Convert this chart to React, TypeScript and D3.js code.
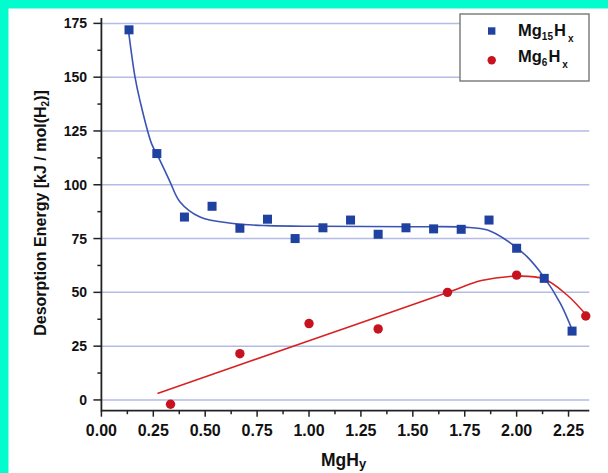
import React from "react";
import * as d3 from "d3";

// Mg15Hx cluster: composition vs. desorption energy
const mg15X = [0.133, 0.267, 0.4, 0.533, 0.667, 0.8, 0.933, 1.067, 1.2, 1.333, 1.467, 1.6, 1.733, 1.867, 2.0, 2.133, 2.267];
const mg15E = [172, 114.5, 85, 90, 79.8, 84, 75, 80, 83.6, 77, 80, 79.5, 79.3, 83.6, 70.5, 56.5, 32];

// Mg6Hx cluster
const mg6X = [0.333, 0.667, 1.0, 1.333, 1.667, 2.0, 2.333];
const mg6E = [-2, 21.5, 35.5, 33, 50, 58, 39];

// Smoothed trend curves (guide to the eye)
const mg15FitX = [0.13, 0.162, 0.186, 0.242, 0.274, 0.33, 0.379, 0.475, 0.635, 0.8, 1.05, 1.5, 1.75, 1.86, 1.95, 2.05, 2.13, 2.21, 2.27];
const mg15FitE = [172, 150, 139, 119, 113, 101.5, 92, 85, 82, 81, 80.7, 80.5, 80.3, 79, 74.3, 66.6, 57.3, 45, 32];
const mg6FitX = [0.27, 1.0, 1.67, 1.83, 2.0, 2.13, 2.24, 2.34];
const mg6FitE = [3, 27.5, 50, 55.5, 57.5, 56.3, 49, 39];

const xTicks = [0, 0.25, 0.5, 0.75, 1.0, 1.25, 1.5, 1.75, 2.0, 2.25];
const yTicks = [0, 25, 50, 75, 100, 125, 150, 175];

const W = 608;
const H = 473;
const FONT = "'Liberation Sans', Arial, sans-serif";

export default function App() {
  const x = d3.scaleLinear().domain([0, 2.35]).range([101.4, 589.3]);
  const y = d3.scaleLinear().domain([-5, 177.5]).range([410.7, 18]);

  const line = d3
    .line<[number, number]>()
    .x((d) => x(d[0]))
    .y((d) => y(d[1]))
    .curve(d3.curveCatmullRom.alpha(0.5));

  const mg15Fit = mg15FitX.map((v, i) => [v, mg15FitE[i]] as [number, number]);
  const mg6Fit = mg6FitX.map((v, i) => [v, mg6FitE[i]] as [number, number]);

  const xMinor = xTicks.map((t) => t + 0.125).filter((t) => t < 2.35);
  const yMinor = yTicks.map((t) => t + 12.5).filter((t) => t < 177.5);

  const [x0, x1] = x.range();
  const yBottom = y(-5);
  const yTop = y(177.5);

  return (
    <svg
      width={W}
      height={H}
      style={{ position: "fixed", left: 0, top: 0, display: "block" }}
      fontFamily={FONT}
    >
      <rect x={0} y={0} width={W} height={H} fill="#03fccd" />
      <rect x={8.5} y={8.5} width={W - 8.5} height={H - 8.5} fill="#ffffff" />

      {/* horizontal grid */}
      {yTicks.map((t) => (
        <line key={"g" + t} x1={x0} x2={x1} y1={y(t)} y2={y(t)} stroke="#b3bbe6" strokeWidth={1.5} />
      ))}

      {/* fitted curves */}
      <path d={line(mg15Fit) || ""} fill="none" stroke="#3a54b4" strokeWidth={1.6} />
      <path d={line(mg6Fit) || ""} fill="none" stroke="#d62222" strokeWidth={1.6} />

      {/* data points */}
      {mg15X.map((v, i) => (
        <rect
          key={"s" + i}
          x={x(v) - 4.5}
          y={y(mg15E[i]) - 4.5}
          width={9}
          height={9}
          fill="#1f41a0"
        />
      ))}
      {mg6X.map((v, i) => (
        <circle key={"c" + i} cx={x(v)} cy={y(mg6E[i])} r={4.7} fill="#c6131f" />
      ))}

      {/* axes */}
      <line x1={x0} x2={x0} y1={yTop} y2={yBottom + 0.8} stroke="#222" strokeWidth={1.8} />
      <line x1={x0} x2={x1} y1={yBottom} y2={yBottom} stroke="#222" strokeWidth={1.8} />

      {yTicks.map((t) => (
        <g key={"yt" + t}>
          <line x1={x0 - 8} x2={x0} y1={y(t)} y2={y(t)} stroke="#222" strokeWidth={1.5} />
          <text
            x={87}
            y={y(t)}
            dy="0.36em"
            textAnchor="end"
            fontSize={14}
            fontWeight="bold"
            fill="#111"
          >
            {t}
          </text>
        </g>
      ))}
      {yMinor.map((t) => (
        <line key={"ym" + t} x1={x0 - 4} x2={x0} y1={y(t)} y2={y(t)} stroke="#222" strokeWidth={1.5} />
      ))}

      {xTicks.map((t) => (
        <g key={"xt" + t}>
          <line x1={x(t)} x2={x(t)} y1={yBottom} y2={yBottom + 6} stroke="#222" strokeWidth={1.5} />
          <text
            x={x(t)}
            y={436}
            textAnchor="middle"
            fontSize={16}
            fontWeight="bold"
            fill="#111"
          >
            {t.toFixed(2)}
          </text>
        </g>
      ))}
      {xMinor.map((t) => (
        <line key={"xm" + t} x1={x(t)} x2={x(t)} y1={yBottom} y2={yBottom + 3.5} stroke="#222" strokeWidth={1.5} />
      ))}

      {/* axis titles */}
      <text x={321} y={466} fontSize={17.5} fontWeight="bold" fill="#111">
        MgH
        <tspan fontSize={13} dy={1.5}>y</tspan>
      </text>
      <text
        transform="translate(45.5,213) rotate(-90)"
        textAnchor="middle"
        fontSize={16}
        fontWeight="bold"
        fill="#111"
      >
        Desorption Energy [kJ / mol(H
        <tspan fontSize={10} dy={3.5}>2</tspan>
        <tspan dy={-3.5}>)]</tspan>
      </text>

      {/* legend */}
      <rect x={460} y={14} width={129} height={67} fill="#ffffff" stroke="#777" strokeWidth={1.4} />
      <rect x={491.7 - 3.7} y={31 - 3.7} width={7.4} height={7.4} fill="#1f41a0" />
      <circle cx={491.7} cy={60.3} r={4.2} fill="#c6131f" />
      <g fontWeight="bold" fill="#111">
        <text x={518} y={35.5} fontSize={16.5}>
          Mg
          <tspan fontSize={10} dy={4.5}>15</tspan>
          <tspan fontSize={16.5} dy={-4.5} dx={1}>H</tspan>
          <tspan fontSize={10} dy={6} dx={2}>x</tspan>
        </text>
        <text x={518} y={61.5} fontSize={16.5}>
          Mg
          <tspan fontSize={10} dy={4.5}>6</tspan>
          <tspan fontSize={16.5} dy={-4.5} dx={1}>H</tspan>
          <tspan fontSize={10} dy={6} dx={2}>x</tspan>
        </text>
      </g>
    </svg>
  );
}
